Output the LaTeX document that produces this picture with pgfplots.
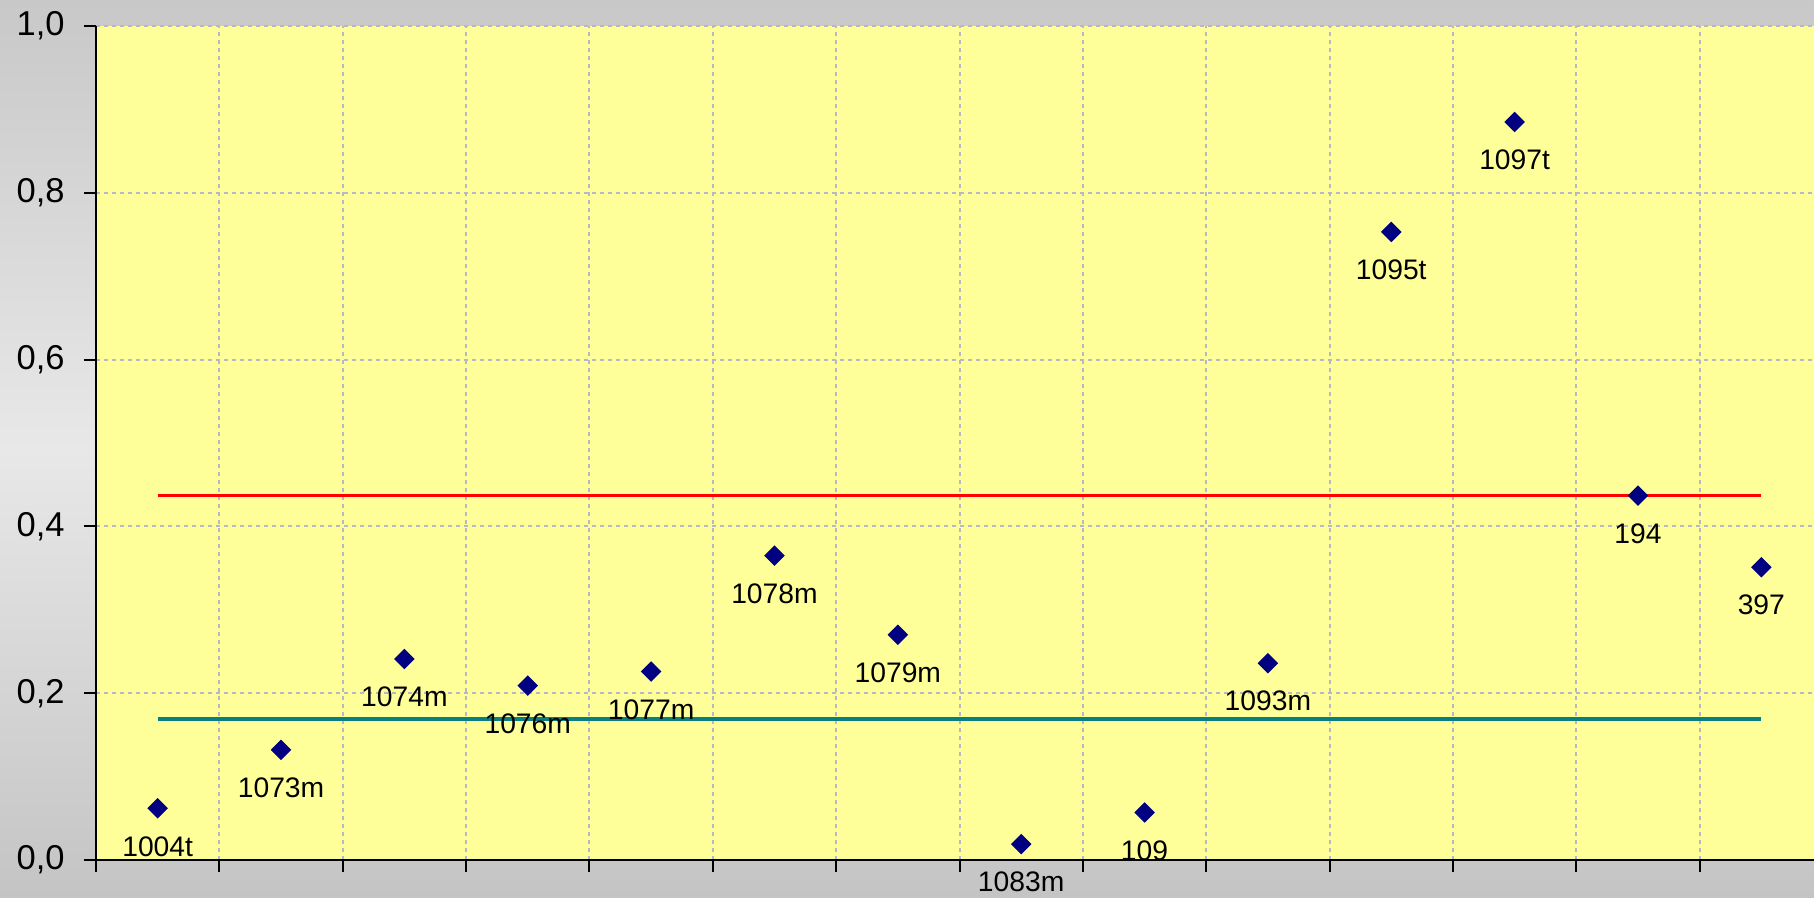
\documentclass[border=0pt]{standalone}
\usepackage{pgfplots}
\pgfplotsset{compat=1.18}
\usepackage{fontspec}
\setmainfont{Liberation Sans}
\definecolor{plotyellow}{HTML}{FFFF99}
\definecolor{bgtop}{HTML}{C8C8C8}
\definecolor{bgmid}{HTML}{E8E8E8}
\definecolor{bgbot}{HTML}{C4C4C4}
\definecolor{gridc}{HTML}{B8B8C4}
\definecolor{navy}{HTML}{000080}
\definecolor{tealline}{HTML}{0A7F7F}
\definecolor{redline}{HTML}{FF0000}
\begin{document}
\begin{tikzpicture}
\shade[top color=bgtop, bottom color=bgbot, middle color=bgmid] (0,0) rectangle (725.6pt,358.8pt);
\begin{axis}[
  at={(38.4pt,14.8pt)}, anchor=south west,
  scale only axis, width=690.8pt, height=333.6pt,
  xmin=0, xmax=14, ymin=0, ymax=1,
  axis background/.style={fill=plotyellow},
  axis x line*=bottom, axis y line*=left,
  axis line style={black, line width=0.8pt},
  xtick={0,1,2,3,4,5,6,7,8,9,10,11,12,13,14}, xticklabels={},
  ytick={0,0.2,0.4,0.6,0.8,1},
  tick align=outside, major tick length=5pt,
  tick style={black, line width=0.8pt},
  grid=major,
  major grid style={color=gridc, dash pattern=on 1.6pt off 1.6pt, line width=0.8pt},
  /pgf/number format/fixed, /pgf/number format/fixed zerofill,
  /pgf/number format/precision=1, /pgf/number format/use comma,
  /pgf/number format/assume math mode=true,
  yticklabel style={font=\fontsize{13.8}{16}\selectfont, xshift=-4pt},
  clip=false,
]
\addplot[redline, line width=1.5pt] coordinates {(0.5,0.437) (13.5,0.437)};
\addplot[tealline, line width=1.7pt] coordinates {(0.5,0.169) (13.5,0.169)};
\addplot[only marks, mark=square*, mark size=2.7pt,
  mark options={rotate=45, fill=navy, draw=navy},
  nodes near coords, point meta=explicit symbolic,
  every node near coord/.append style={anchor=center, yshift=-15.2pt, font=\fontsize{11.3}{13}\selectfont, text=black},
] table[meta=label] {
x y label
0.5 0.062 1004t
1.5 0.132 1073m
2.5 0.241 1074m
3.5 0.209 1076m
4.5 0.226 1077m
5.5 0.365 1078m
6.5 0.270 1079m
7.5 0.019 1083m
8.5 0.057 109
9.5 0.236 1093m
10.5 0.753 1095t
11.5 0.885 1097t
12.5 0.437 194
13.5 0.351 397
};
\end{axis}
\pgfresetboundingbox
\path (0,0) rectangle (725.6pt,358.8pt);
\end{tikzpicture}
\end{document}
